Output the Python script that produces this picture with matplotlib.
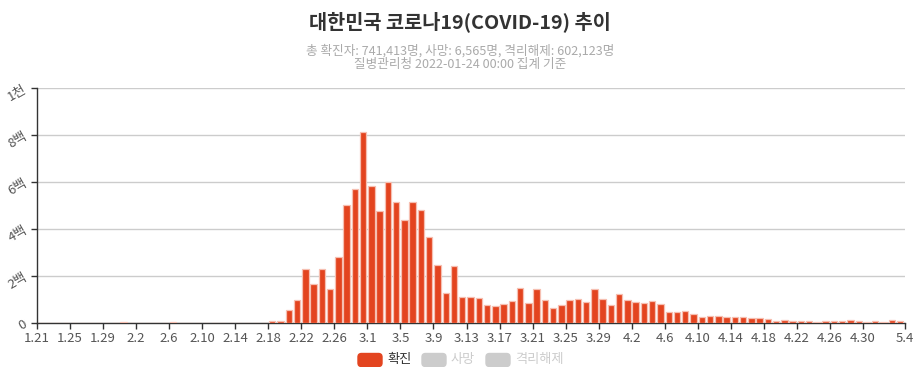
import matplotlib
matplotlib.use("Agg")
import matplotlib.pyplot as plt
from matplotlib.patches import FancyBboxPatch
from matplotlib.transforms import IdentityTransform
import datetime as dt

plt.rcParams['font.family'] = ['Noto Sans CJK KR', 'DejaVu Sans']

title = "대한민국 코로나19(COVID-19) 추이"
subtitle = "총 확진자: 741,413명, 사망: 6,565명, 격리해제: 602,123명\n질병관리청 2022-01-24 00:00 집계 기준"
legend_names = ["확진", "사망", "격리해제"]

# daily confirmed cases, 2020-01-21 .. 2020-05-04 (one value per day)
confirmed = [
    1, 0, 0, 1, 0, 0, 2, 0, 0, 3, 4,                          # 1.21-1.31
    1, 3, 0, 1, 3, 4, 0, 0, 3, 0, 1, 0, 0, 0, 0, 1, 1,       # 2.1-2.17
    10, 9, 55, 100, 229, 169, 231, 144, 284, 505, 571, 813,  # 2.18-2.29
    586, 476, 600, 516, 438, 518, 483, 367, 248, 131,        # 3.1-3.10
    242, 114, 110, 107, 76, 74, 84, 93, 152, 87,             # 3.11-3.20
    147, 98, 64, 76, 100, 104, 91, 146, 105, 78, 125,        # 3.21-3.31
    101, 89, 86, 94, 81, 47, 47, 53, 39, 27,                 # 4.1-4.10
    30, 32, 25, 27, 27, 22, 22, 18, 8, 13,                   # 4.11-4.20
    9, 11, 8, 6, 10, 10, 10, 14, 9, 4,                       # 4.21-4.30
    9, 6, 13, 8,                                             # 5.1-5.4
]
start = dt.date(2020, 1, 21)
dates = [start + dt.timedelta(days=i) for i in range(len(confirmed))]
y_ticks = [0, 200, 400, 600, 800, 1000]
y_labels = ["0", "2백", "4백", "6백", "8백", "1천"]

RED = "#e3441f"
fig = plt.figure(figsize=(9.2, 3.67), dpi=100)
W, H = 920, 367
ax = fig.add_axes([37 / W, (H - 323.3) / H, 868 / W, 235 / H])

x = [i + 0.48 for i in range(len(confirmed))]
ax.bar(x, confirmed, width=0.78, color=RED, edgecolor="#f6bfb1", linewidth=0.9, zorder=3)

x_end = len(confirmed) + 0.08
ax.set_xlim(0, x_end)
ax.set_ylim(0, 1000)

tick_pos = list(range(0, 101, 4)) + [x_end]
tick_lab = [f"{dates[i].month}.{dates[i].day}" for i in range(0, 101, 4)] + \
           [f"{dates[-1].month}.{dates[-1].day}"]
ax.set_xticks(tick_pos)
ax.set_xticklabels(tick_lab, fontsize=9.5, color="#555555")
ax.set_yticks(y_ticks)
ax.set_yticklabels(y_labels, fontsize=9.5, color="#555555", rotation=30, ha="right",
                   va="center", rotation_mode="anchor")
ax.tick_params(axis="x", length=4, width=1, color="#333333", pad=2)
ax.tick_params(axis="y", length=4, width=1, color="#333333", pad=4)

ax.grid(axis="y", color="#cccccc", linewidth=1, zorder=0)
for s in ["top", "right"]:
    ax.spines[s].set_visible(False)
for s in ["left", "bottom"]:
    ax.spines[s].set_color("#333333")
    ax.spines[s].set_linewidth(1)

fig.text(0.5, 1 - 22 / H, title, ha="center", va="center", fontsize=14.2,
         fontweight="bold", color="#333333")
fig.text(0.5, 1 - 57.5 / H, subtitle, ha="center", va="center", fontsize=9.1,
         color="#aaaaaa", linespacing=1.0)

# legend (pixel coordinates, origin bottom-left)
leg_colors = [RED, "#cccccc", "#cccccc"]
txt_colors = ["#333333", "#cccccc", "#cccccc"]
rect_x = [358, 422, 486]
for rx, name, c, tc in zip(rect_x, legend_names, leg_colors, txt_colors):
    p = FancyBboxPatch((rx, H - 366.5), 24, 13,
                       boxstyle="round,pad=0,rounding_size=3.5",
                       transform=IdentityTransform(), color=c)
    fig.patches.append(p)
    fig.text((rx + 29) / W, 1 - 360 / H, name, ha="left", va="center",
             fontsize=9.5, color=tc)

fig.savefig("out.png", dpi=100)
